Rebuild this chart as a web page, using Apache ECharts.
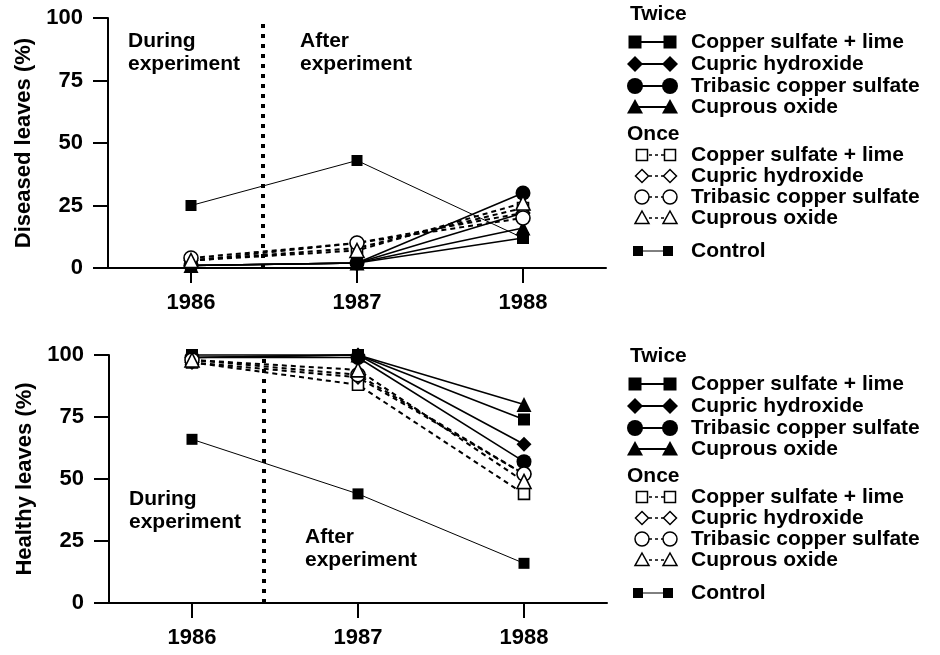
<!DOCTYPE html>
<html>
<head>
<meta charset="utf-8">
<script src="https://cdn.jsdelivr.net/npm/echarts@6/dist/echarts.min.js"></script>
<style>
  html, body { margin: 0; padding: 0; background: #fff; }
  #chart { width: 940px; height: 655px; }
</style>
</head>
<body>
<div id="chart"></div>
<script>
// data
const years = [1986, 1987, 1988];
const yTicks = [0, 25, 50, 75, 100];
const treatments = ["Copper sulfate + lime", "Cupric hydroxide", "Tribasic copper sulfate", "Cuprous oxide"];
const experimentEnd = 1986.43;

// diseased leaves (%), top panel
const diseasedTwice = [
  [1, 2, 12],   // copper sulfate + lime
  [1, 2, 22],   // cupric hydroxide
  [1, 2, 30],   // tribasic copper sulfate
  [1, 2, 16]    // cuprous oxide
];
const diseasedOnce = [
  [3, 8, 24],
  [3, 10, 22],
  [4, 10, 20],
  [3, 7, 26]
];
const diseasedControl = [25, 43, 12];

// healthy leaves (%), bottom panel
const healthyTwice = [
  [100, 100, 74],
  [99, 100, 64],
  [99, 99, 57],
  [99, 100, 80]
];
const healthyOnce = [
  [97, 88, 44],
  [97, 91, 52],
  [98, 92, 52],
  [98, 94, 49]
];
const healthyControl = [66, 44, 16];

const FONT = "Liberation Sans";
const symbols = ["rect", "diamond", "circle", "triangle"];
const solidSize = [12, 15, 15, 15];
const openSize = [11, 13, 14, 14];

let chart = echarts.init(document.getElementById("chart"));

function pairs(vals) {
  return years.map(function(y, i) { return [y, vals[i]]; });
}

function panelSeries(idx, twice, once, control) {
  let out = [];
  twice.forEach(function(vals, k) {
    out.push({
      name: "Twice " + treatments[k],
      type: "line", xAxisIndex: idx, yAxisIndex: idx,
      data: pairs(vals),
      symbol: symbols[k], symbolSize: solidSize[k],
      lineStyle: { color: "#000", width: 1.6 },
      itemStyle: { color: "#000" },
      clip: false, z: k === 0 ? 4 : 3
    });
  });
  once.forEach(function(vals, k) {
    out.push({
      name: "Once " + treatments[k],
      type: "line", xAxisIndex: idx, yAxisIndex: idx,
      data: pairs(vals),
      symbol: symbols[k], symbolSize: openSize[k],
      lineStyle: { color: "#000", width: 2, type: [5, 4] },
      itemStyle: { color: "#fff", borderColor: "#000", borderWidth: 1.6 },
      clip: false, z: 5
    });
  });
  out.push({
    name: "Control",
    type: "line", xAxisIndex: idx, yAxisIndex: idx,
    data: pairs(control),
    symbol: "rect", symbolSize: 11,
    lineStyle: { color: "#000", width: 1 },
    itemStyle: { color: "#000" },
    clip: false, z: 2,
    markLine: {
      silent: true, symbol: "none",
      label: { show: false },
      lineStyle: { color: "#000", width: 4, type: [4, 6] },
      data: [{ xAxis: experimentEnd }]
    }
  });
  return out;
}

function xAxisFor(idx) {
  return {
    type: "value", gridIndex: idx, min: 1985.5, max: 1988.5,
    axisLine: { lineStyle: { color: "#000", width: 2 } },
    axisTick: { show: true, customValues: years, length: 15, lineStyle: { color: "#000", width: 2 } },
    axisLabel: { customValues: years, margin: 24, color: "#000", fontSize: 22, fontWeight: "bold", fontFamily: FONT,
      formatter: function(v) { return String(v); } },
    splitLine: { show: false }
  };
}

function yAxisFor(idx, name) {
  return {
    type: "value", gridIndex: idx, min: 0, max: 100, interval: 25,
    name: name, nameLocation: "middle", nameGap: 59, nameRotate: 90,
    nameTextStyle: { color: "#000", fontSize: 22, fontWeight: "bold", fontFamily: FONT },
    axisLine: { show: true, lineStyle: { color: "#000", width: 2 } },
    axisTick: { show: true, length: 15, lineStyle: { color: "#000", width: 2 } },
    axisLabel: { margin: 25, color: "#000", fontSize: 22, fontWeight: "bold", fontFamily: FONT,
      customValues: yTicks },
    splitLine: { show: false }
  };
}

// legend drawn as graphic: two markers joined by a line, then the label
function marker(kind, cx, cy, s, filled) {
  let style = filled ? { fill: "#000" } : { fill: "#fff", stroke: "#000", lineWidth: 1.5 };
  let h = s / 2;
  if (kind === "rect") return { type: "rect", shape: { x: cx - h, y: cy - h, width: s, height: s }, style: style };
  if (kind === "circle") return { type: "circle", shape: { cx: cx, cy: cy, r: h }, style: style };
  if (kind === "diamond") return { type: "polygon", shape: { points: [[cx, cy - h], [cx + h, cy], [cx, cy + h], [cx - h, cy]] }, style: style };
  return { type: "polygon", shape: { points: [[cx, cy - h], [cx + h, cy + h * 0.8], [cx - h, cy + h * 0.8]] }, style: style };
}

function legendBlock(top) {
  let els = [];
  let rowY = [14, 42, 64, 86, 107, 134, 155, 176, 197, 218, 251].map(function(v) { return v + top; });
  let txt = function(x, y, s) {
    return { type: "text", x: x, y: y, style: { text: s, fill: "#000", font: "bold 21px '" + FONT + "'", verticalAlign: "middle" } };
  };
  els.push(txt(630, rowY[0], "Twice"));
  els.push(txt(627, rowY[5], "Once"));
  treatments.forEach(function(t, k) {
    let y1 = rowY[1 + k], y2 = rowY[6 + k];
    els.push({ type: "line", shape: { x1: 635, y1: y1, x2: 670, y2: y1 }, style: { stroke: "#000", lineWidth: 2 } });
    els.push(marker(symbols[k], 635, y1, solidSize[k] + 1, true));
    els.push(marker(symbols[k], 670, y1, solidSize[k] + 1, true));
    els.push(txt(691, y1, t));
    els.push({ type: "line", shape: { x1: 643, y1: y2, x2: 670, y2: y2 }, style: { stroke: "#000", lineWidth: 1.5, lineDash: [3, 3] } });
    els.push(marker(symbols[k], 642, y2, openSize[k], false));
    els.push(marker(symbols[k], 670, y2, openSize[k], false));
    els.push(txt(691, y2, t));
  });
  let yc = rowY[10];
  els.push({ type: "line", shape: { x1: 638, y1: yc, x2: 668, y2: yc }, style: { stroke: "#000", lineWidth: 1 } });
  els.push(marker("rect", 638, yc, 10, true));
  els.push(marker("rect", 668, yc, 10, true));
  els.push(txt(691, yc, "Control"));
  return els;
}

function note(x, y, s) {
  return { type: "text", x: x, y: y, style: { text: s, fill: "#000", font: "bold 21px '" + FONT + "'", lineHeight: 23 } };
}

let option = {
  animation: false,
  backgroundColor: "#fff",
  textStyle: { fontFamily: FONT },
  grid: [
    { left: 108, top: 18, width: 498, height: 250 },
    { left: 109, top: 355, width: 498, height: 248 }
  ],
  xAxis: [xAxisFor(0), xAxisFor(1)],
  yAxis: [yAxisFor(0, "Diseased leaves (%)"), yAxisFor(1, "Healthy leaves (%)")],
  series: panelSeries(0, diseasedTwice, diseasedOnce, diseasedControl)
    .concat(panelSeries(1, healthyTwice, healthyOnce, healthyControl)),
  graphic: [].concat(
    legendBlock(0),
    legendBlock(342),
    [
      note(128, 30, "During\nexperiment"),
      note(300, 30, "After\nexperiment"),
      note(129, 488, "During\nexperiment"),
      note(305, 526, "After\nexperiment")
    ]
  )
};

chart.setOption(option);
</script>
</body>
</html>
